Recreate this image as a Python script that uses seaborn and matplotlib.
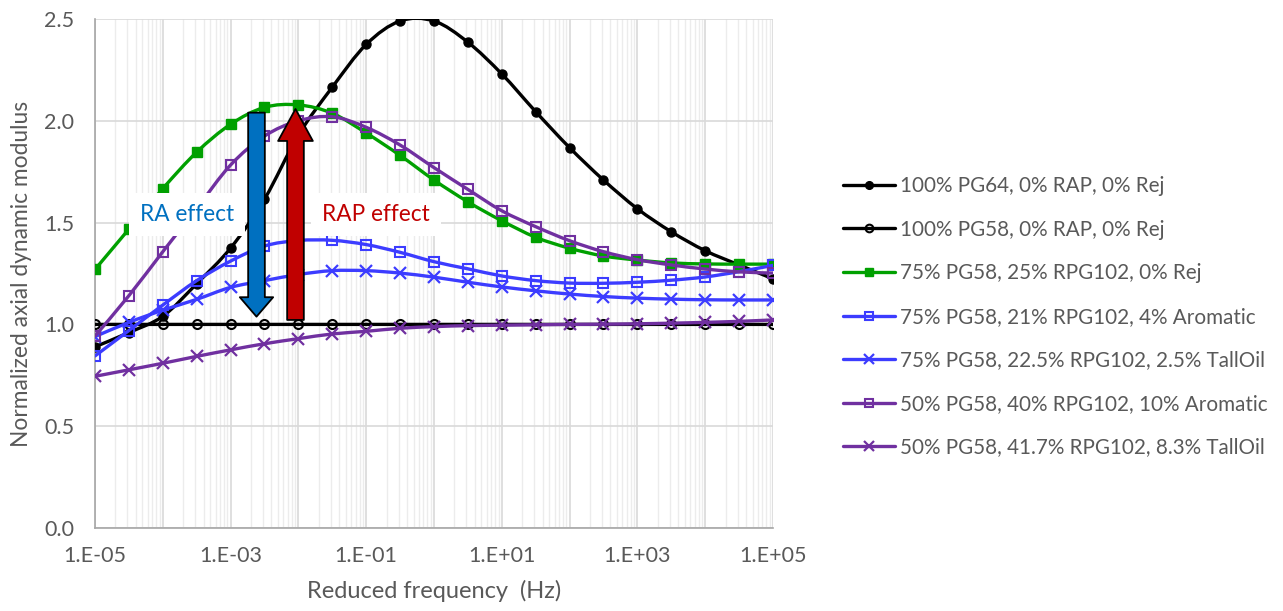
import numpy as np
import matplotlib
matplotlib.use("Agg")
import matplotlib.pyplot as plt
from matplotlib.path import Path
from matplotlib.patches import PathPatch, FancyArrowPatch
from matplotlib.lines import Line2D
from matplotlib.ticker import LogLocator, FuncFormatter, NullFormatter
import seaborn as sns

# Reduced frequency (Hz), half-decade steps
freq = [1e-5, 3.16e-5, 1e-4, 3.16e-4, 1e-3, 3.16e-3, 1e-2, 3.16e-2, 1e-1, 3.16e-1,
        1e0, 3.16e0, 1e1, 3.16e1, 1e2, 3.16e2, 1e3, 3.16e3, 1e4, 3.16e4, 1e5]

pg64 = [0.89, 0.96, 1.04, 1.20, 1.375, 1.615, 1.93, 2.165, 2.375, 2.49,
        2.49, 2.386, 2.23, 2.045, 1.868, 1.709, 1.568, 1.455, 1.362, 1.292, 1.224]
pg58 = [1.0] * 21
rap25 = [1.27, 1.468, 1.667, 1.846, 1.983, 2.066, 2.078, 2.037, 1.94, 1.83,
         1.709, 1.602, 1.509, 1.428, 1.374, 1.336, 1.316, 1.302, 1.297, 1.296, 1.296]
arom4 = [0.845, 0.97, 1.095, 1.215, 1.311, 1.385, 1.412, 1.413, 1.392, 1.354,
         1.308, 1.273, 1.238, 1.215, 1.203, 1.202, 1.207, 1.217, 1.233, 1.259, 1.29]
tall25 = [0.94, 1.01, 1.07, 1.123, 1.182, 1.215, 1.245, 1.264, 1.264, 1.252,
          1.232, 1.207, 1.184, 1.165, 1.149, 1.137, 1.129, 1.124, 1.121, 1.12, 1.12]
arom10 = [0.943, 1.141, 1.357, 1.57, 1.783, 1.925, 2.0, 2.02, 1.968, 1.881,
          1.77, 1.663, 1.558, 1.48, 1.411, 1.357, 1.318, 1.292, 1.272, 1.258, 1.252]
tall83 = [0.745, 0.777, 0.809, 0.843, 0.875, 0.905, 0.93, 0.953, 0.966, 0.981,
          0.989, 0.994, 0.996, 0.998, 1.0, 1.001, 1.003, 1.006, 1.01, 1.015, 1.022]

labels = ["100% PG64, 0% RAP, 0% Rej",
          "100% PG58, 0% RAP, 0% Rej",
          "75% PG58, 25% RPG102, 0% Rej",
          "75% PG58, 21% RPG102, 4% Aromatic",
          "75% PG58, 22.5% RPG102, 2.5% TallOil",
          "50% PG58, 40% RPG102, 10% Aromatic",
          "50% PG58, 41.7% RPG102, 8.3% TallOil"]

y_ticks = [0.0, 0.5, 1.0, 1.5, 2.0, 2.5]

GREY = "#595959"
BLACK = "#000000"
GREEN = "#00A000"
BLUE = "#3C3CFF"
PURPLE = "#7030A0"

series = [
    (pg64, BLACK, "o", BLACK, 6.5, 1.0),
    (pg58, BLACK, "o", "none", 6.5, 1.5),
    (rap25, GREEN, "s", GREEN, 6.5, 1.0),
    (arom4, BLUE, "s", "none", 7.0, 1.5),
    (tall25, BLUE, "x", BLUE, 9.0, 1.6),
    (arom10, PURPLE, "s", "none", 7.0, 1.5),
    (tall83, PURPLE, "x", PURPLE, 9.0, 1.6),
]

sns.set_theme(style="white")
plt.rcParams["font.family"] = ["Lato", "DejaVu Sans"]

fig = plt.figure(figsize=(12.83, 6.11), dpi=100)
ax = fig.add_axes([95 / 1283, 1 - 528 / 611, (773 - 95) / 1283, (528 - 19) / 611])


def smooth_path(xs, ys):
    """Cubic Bezier through the points (Catmull-Rom style), built in log-x space."""
    lx = np.log10(np.asarray(xs, float))
    y = np.asarray(ys, float)
    n = len(lx)
    verts = [(xs[0], y[0])]
    codes = [Path.MOVETO]
    for i in range(n - 1):
        i0 = max(i - 1, 0)
        i3 = min(i + 2, n - 1)
        c1 = (lx[i] + (lx[i + 1] - lx[i0]) / 6, y[i] + (y[i + 1] - y[i0]) / 6)
        c2 = (lx[i + 1] - (lx[i3] - lx[i]) / 6, y[i + 1] - (y[i3] - y[i]) / 6)
        verts += [(10 ** c1[0], c1[1]), (10 ** c2[0], c2[1]), (xs[i + 1], y[i + 1])]
        codes += [Path.CURVE4] * 3
    return Path(verts, codes)


handles = []
for k, (vals, col, mk, mfc, ms, mew) in enumerate(series):
    z = 3 + k
    ax.add_patch(PathPatch(smooth_path(freq, vals), facecolor="none", edgecolor=col,
                           lw=2.4, zorder=z, capstyle="round", joinstyle="round"))
    sns.lineplot(x=freq, y=vals, ax=ax, marker=mk, linestyle="none", color=col,
                 markerfacecolor=mfc, markeredgecolor=col, markersize=ms,
                 markeredgewidth=mew, zorder=z + 0.5, legend=False)
    handles.append(Line2D([0], [0], color=col, lw=2.4, marker=mk, markerfacecolor=mfc,
                          markeredgecolor=col, markersize=ms * 0.85, markeredgewidth=mew))

ax.set_xscale("log")
ax.set_xlim(1e-5, 1e5)
ax.set_ylim(0, 2.5)
ax.set_yticks(y_ticks)
ax.yaxis.set_major_formatter(FuncFormatter(lambda v, p: f"{v:.1f}"))

ax.xaxis.set_major_locator(LogLocator(base=10, numticks=30))
ax.xaxis.set_minor_locator(LogLocator(base=10, subs=np.arange(2, 10), numticks=30))
ax.xaxis.set_minor_formatter(NullFormatter())


def fmt_x(v, p):
    e = int(round(np.log10(v)))
    if e % 2 == 0:
        return ""
    return f"1.E{'+' if e >= 0 else '-'}{abs(e):02d}"


ax.xaxis.set_major_formatter(FuncFormatter(fmt_x))

ax.grid(which="major", axis="both", color="#d9d9d9", lw=1.2, zorder=0)
ax.grid(which="minor", axis="x", color="#ececec", lw=1.0, zorder=0)
ax.set_axisbelow(True)
for s in ["top", "right"]:
    ax.spines[s].set_visible(False)
for s in ["left", "bottom"]:
    ax.spines[s].set_color("#a6a6a6")
    ax.spines[s].set_linewidth(1.2)

ax.tick_params(axis="both", which="both", length=0, labelsize=15.5, colors=GREY)
ax.tick_params(axis="y", pad=15)
ax.tick_params(axis="x", pad=13)

ax.set_xlabel("Reduced frequency  (Hz)", fontsize=17, color=GREY, labelpad=10)
ax.set_ylabel("Normalized axial dynamic modulus", fontsize=16.4, color=GREY, labelpad=9)

# Annotation labels with white boxes
ax.text(10 ** -3.643, 1.54, "RA effect", color="#0070C0", fontsize=16.3, ha="center",
        va="center", zorder=12,
        bbox=dict(facecolor="white", edgecolor="none", boxstyle="square,pad=0.5"))
ax.text(10 ** -0.855, 1.54, "RAP effect", color="#C00000", fontsize=16.3, ha="center",
        va="center", zorder=12,
        bbox=dict(facecolor="white", edgecolor="none", boxstyle="square,pad=0.5"))

# Block arrows
blue_x = 10 ** -2.618
red_x = 10 ** -2.043
ax.add_patch(FancyArrowPatch((blue_x, 2.04), (blue_x, 1.038),
                             arrowstyle="simple,head_length=14,head_width=24,tail_width=12",
                             mutation_scale=1, facecolor="#0070C0", edgecolor="black",
                             lw=1.3, shrinkA=0, shrinkB=0, zorder=13))
ax.add_patch(FancyArrowPatch((red_x, 1.022), (red_x, 2.058),
                             arrowstyle="simple,head_length=23,head_width=25,tail_width=12",
                             mutation_scale=1, facecolor="#C00000", edgecolor="black",
                             lw=1.3, shrinkA=0, shrinkB=0, zorder=13))

leg = fig.legend(handles, labels, loc="upper left", bbox_to_anchor=(843 / 1283, 1 - 176 / 611),
                 frameon=False, fontsize=14.9, handlelength=2.5, handletextpad=0.25,
                 labelspacing=1.14, borderpad=0, borderaxespad=0)
for t in leg.get_texts():
    t.set_color(GREY)

fig.savefig("out.png", dpi=100)
